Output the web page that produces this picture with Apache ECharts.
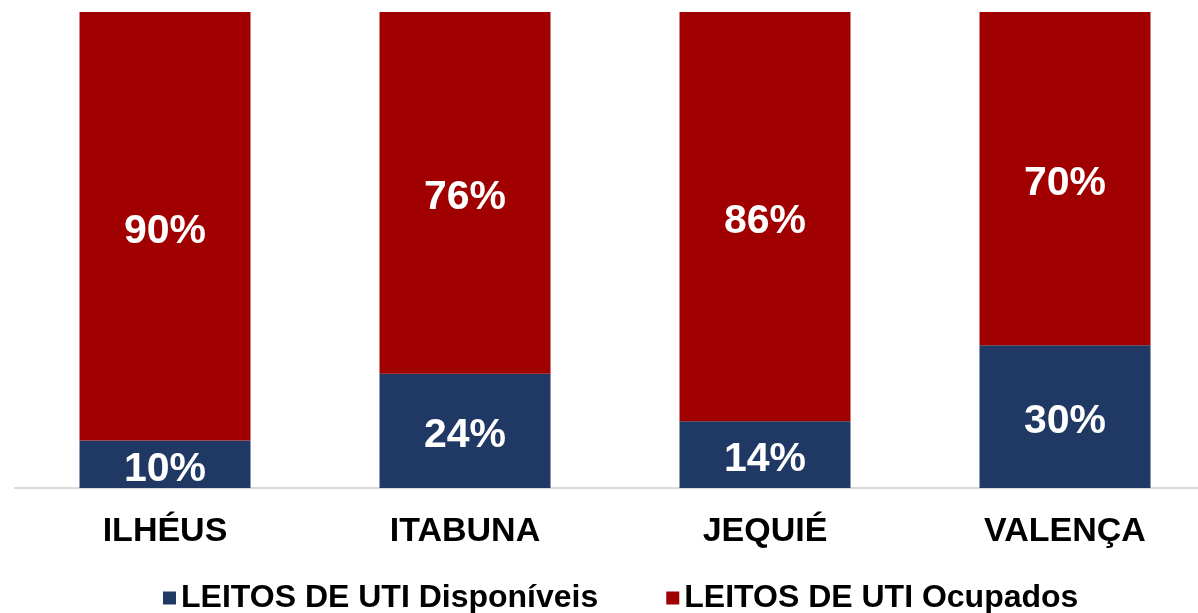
<!DOCTYPE html>
<html>
<head>
<meta charset="utf-8">
<script src="https://cdn.jsdelivr.net/npm/echarts@6/dist/echarts.min.js"></script>
<style>
html, body { margin: 0; padding: 0; background: #fff; }
#container { width: 1198px; height: 613px; }
</style>
</head>
<body>
<div id="container"></div>
<script>
var cidades = ['ILHÉUS', 'ITABUNA', 'JEQUIÉ', 'VALENÇA'];
var disponiveis = [10, 24, 14, 30];
var ocupados = [90, 76, 86, 70];

var chart = echarts.init(document.getElementById('container'));

var rotulo = {
    show: true,
    position: 'inside',
    offset: [0, 5],
    color: '#fff',
    fontFamily: 'Liberation Sans',
    fontWeight: 'bold',
    fontSize: 41,
    formatter: '{c}%'
};

option = {
    animation: false,
    textStyle: { fontFamily: 'Liberation Sans' },
    // largura de categoria ~300px, o eixo passa da borda direita
    grid: { left: 15, right: -17, top: 12, bottom: 125, outerBoundsMode: 'none' },
    legend: {
        data: ['LEITOS DE UTI Disponíveis', 'LEITOS DE UTI Ocupados'],
        top: 577,
        left: 158,
        itemWidth: 13,
        itemHeight: 13,
        itemGap: 68,
        icon: 'rect',
        textStyle: { color: '#000', fontWeight: 'bold', fontSize: 32, fontFamily: 'Liberation Sans' }
    },
    xAxis: {
        type: 'category',
        data: cidades,
        axisLine: { lineStyle: { color: '#d9d9d9', width: 2 } },
        axisTick: { show: false },
        axisLabel: { color: '#000', fontWeight: 'bold', fontSize: 34, margin: 27, fontFamily: 'Liberation Sans' }
    },
    yAxis: { type: 'value', min: 0, max: 100, show: false },
    series: [
        {
            name: 'LEITOS DE UTI Disponíveis',
            type: 'bar',
            stack: 'total',
            barWidth: '57%',
            data: disponiveis,
            itemStyle: { color: '#203864' },
            label: rotulo
        },
        {
            name: 'LEITOS DE UTI Ocupados',
            type: 'bar',
            stack: 'total',
            barWidth: '57%',
            data: ocupados,
            itemStyle: { color: '#a00000' },
            label: rotulo
        }
    ]
};

chart.setOption(option);
</script>
</body>
</html>
